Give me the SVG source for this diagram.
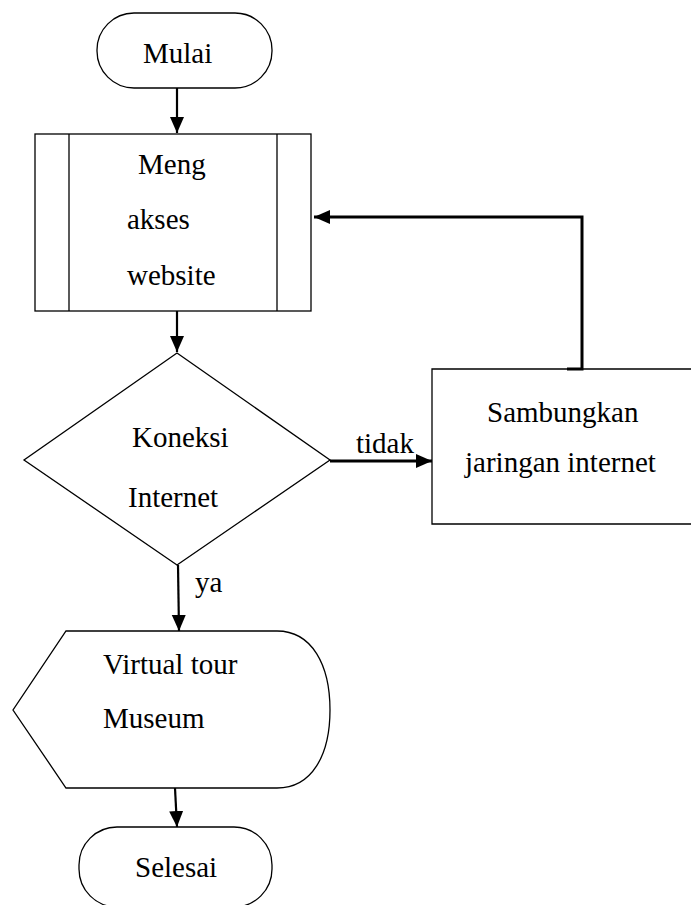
<svg xmlns="http://www.w3.org/2000/svg" width="691" height="905" viewBox="0 0 691 905">
<defs>
<style>
.shape{fill:#fff;stroke:#000;stroke-width:1.3}
.thin{fill:none;stroke:#000;stroke-width:1.3}
.t{font-family:"Liberation Serif","Times New Roman",serif;font-size:29px;fill:#000}
.conn{fill:none;stroke:#000;stroke-width:2.2}
.conn2{fill:none;stroke:#000;stroke-width:3}
</style>
<marker id="ah" markerUnits="userSpaceOnUse" markerWidth="17" markerHeight="16" refX="16" refY="7" orient="auto">
<path d="M0,0 L16,7 L0,14 Z" fill="#000"/>
</marker>
</defs>
<g id="mulai">
<rect class="shape" x="97" y="13" width="175" height="75" rx="37" ry="37"/>
<text class="t" x="143" y="63">Mulai</text>
</g>
<g id="mengakses">
<rect class="shape" x="35" y="134" width="276" height="177"/>
<line class="thin" x1="69" y1="134" x2="69" y2="311"/>
<line class="thin" x1="277" y1="134" x2="277" y2="311"/>
<text class="t" x="138" y="174">Meng</text>
<text class="t" x="127" y="229">akses</text>
<text class="t" x="127" y="285">website</text>
</g>
<g id="koneksi">
<polygon class="shape" points="177,353 330,460 177,565 24,460"/>
<text class="t" x="132" y="447">Koneksi</text>
<text class="t" x="128" y="507">Internet</text>
</g>
<g id="sambungkan">
<path class="shape" d="M693,369 L432,369 L432,524 L693,524"/>
<text class="t" x="487" y="422">Sambungkan</text>
<text class="t" x="465" y="472">jaringan internet</text>
</g>
<g id="virtualtour">
<path class="shape" d="M66,631 L277,631 C312,631 330,665 330,710 C330,755 312,788 277,788 L66,788 L13,710 Z"/>
<text class="t" x="103" y="674">Virtual tour</text>
<text class="t" x="103" y="728">Museum</text>
</g>
<g id="selesai">
<rect class="shape" x="79" y="827" width="193" height="80" rx="38" ry="38"/>
<text class="t" x="135" y="877">Selesai</text>
</g>
<g id="connectors">
<path class="conn" d="M177,88 L177,133" marker-end="url(#ah)"/>
<path class="conn" d="M177,311 L177,352" marker-end="url(#ah)"/>
<path class="conn2" d="M330,461 L432,461" marker-end="url(#ah)"/>
<path class="conn2" d="M567,369 L582,369 L582,217 L314,217" marker-end="url(#ah)"/>
<path class="conn" d="M178,565 L179,631" marker-end="url(#ah)"/>
<path class="conn" d="M175,788 L177,827" marker-end="url(#ah)"/>
<text class="t" x="356" y="453">tidak</text>
<text class="t" x="195" y="592">ya</text>
</g>
</svg>
